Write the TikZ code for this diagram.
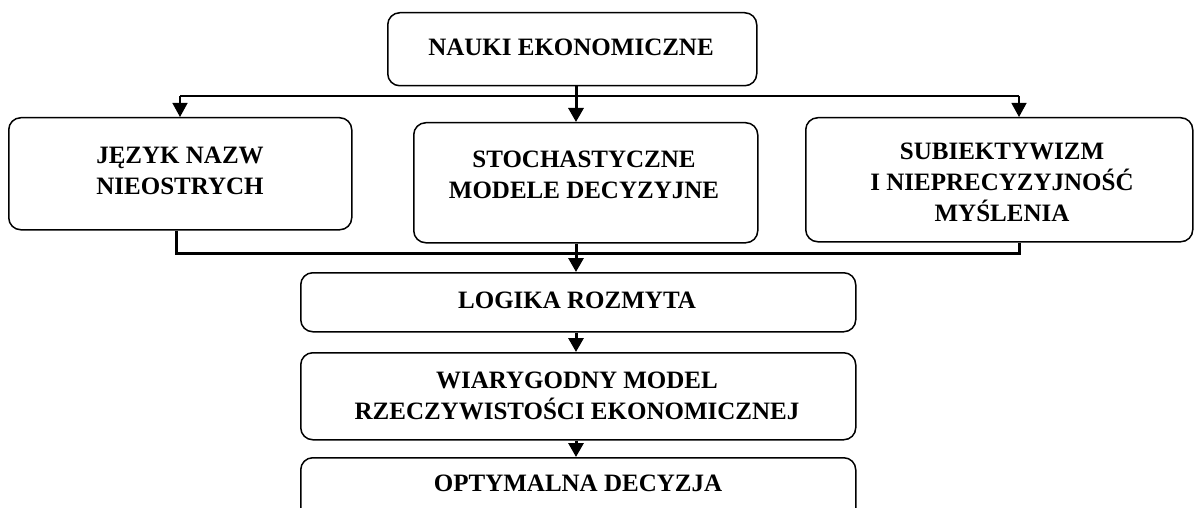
\documentclass[tikz,border=0pt]{standalone}
\usepackage{fontspec}
\setmainfont{Liberation Serif}
\usetikzlibrary{arrows.meta}
\tikzset{
  box/.style={draw=black, line width=1.5pt, rounded corners=12pt, anchor=north west, inner sep=0pt},
  txt/.style={font=\fontsize{25}{31}\selectfont\bfseries, align=center, inner sep=0pt},
  thinline/.style={line width=1.3pt},
  thickline/.style={line width=3pt},
  tip/.style={-{Triangle[length=14pt,width=15pt]}}
}
\begin{document}
\begin{tikzpicture}[x=1pt,y=-1pt]
\useasboundingbox (0,0) rectangle (1194,508);
\clip (0,0) rectangle (1194,508);
% boxes
\node[box, minimum width=369pt, minimum height=73pt] (nauki) at (387,12) {};
\node[box, minimum width=343pt, minimum height=112pt] (jezyk) at (8,117) {};
\node[box, minimum width=344pt, minimum height=120pt] (stoch) at (413,122) {};
\node[box, minimum width=387pt, minimum height=124pt] (subiek) at (805,117) {};
\node[box, minimum width=555pt, minimum height=59pt] (logika) at (300,272) {};
\node[box, minimum width=555pt, minimum height=87pt] (wiary) at (300,352) {};
\node[box, minimum width=555pt, minimum height=70pt] (opt) at (300,457) {};
% texts
\node[txt] (nauki-t) at (571,47.5) {NAUKI EKONOMICZNE};
\node[txt] (jezyk-t) at (180,171) {JĘZYK NAZW\\NIEOSTRYCH};
\node[txt] (stoch-t) at (584,175) {STOCHASTYCZNE\\MODELE DECYZYJNE};
\node[txt] (subiek-t) at (1002,182) {SUBIEKTYWIZM\\I NIEPRECYZYJNOŚĆ\\MYŚLENIA};
\node[txt] (logika-t) at (577,300) {LOGIKA ROZMYTA};
\node[txt] (wiary-t) at (577,396) {WIARYGODNY MODEL\\RZECZYWISTOŚCI EKONOMICZNEJ};
\node[txt] (opt-t) at (578,483.5) {OPTYMALNA DECYZJA};
% helper coordinates
\coordinate (cx) at (576,0);
\coordinate (tl) at (180,96);
\coordinate (tr) at (1019,96);
\coordinate (bl) at (176,253);
\coordinate (br) at (1019,253);
% top distribution
\draw[thinline] (tl) -- (tr);
\draw[thinline, tip] (tl) -- (tl |- jezyk.north);
\draw[thinline, tip] (tr) -- (tr |- subiek.north);
\draw[thickline, tip] (cx |- nauki.south) -- (cx |- stoch.north);
% collector
\draw[thickline] (bl |- jezyk.south) -- (bl) -- (br) -- (br |- subiek.south);
\draw[thickline, tip] (cx |- stoch.south) -- (cx |- logika.north);
\draw[thickline, tip] (cx |- logika.south) -- (cx |- wiary.north);
\draw[thickline, tip] (cx |- wiary.south) -- (cx |- opt.north);
\end{tikzpicture}
\end{document}
